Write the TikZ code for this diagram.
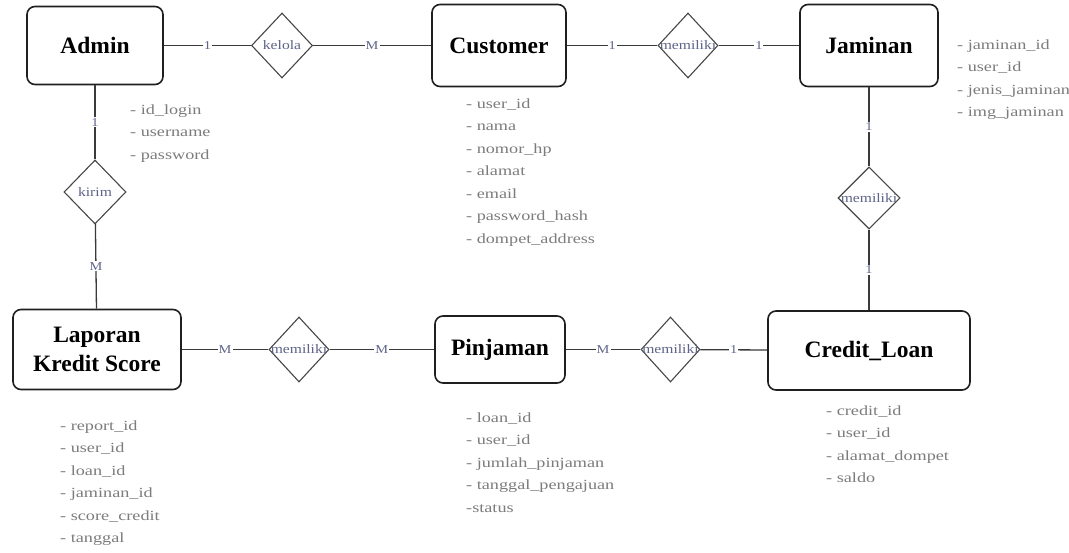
\documentclass[tikz,border=0pt]{standalone}
\usepackage{fontspec}
\IfFontExistsTF{LiberationSerif-Regular.ttf}{%
  \setmainfont{LiberationSerif-Regular.ttf}[BoldFont=LiberationSerif-Bold.ttf]
  \newfontfamily\attrfont{LiberationSerif-Regular.ttf}[FakeStretch=1.3]
  \newfontfamily\relfont{LiberationSerif-Regular.ttf}[FakeStretch=1.2]
}{%
  \setmainfont{Latin Modern Roman}
  \newfontfamily\attrfont{Latin Modern Roman}[FakeStretch=1.2]
  \newfontfamily\relfont{Latin Modern Roman}[FakeStretch=1.1]
}
\usetikzlibrary{shapes.geometric}
\definecolor{linec}{HTML}{3A3A3A}
\definecolor{attrc}{HTML}{7C7C7C}
\definecolor{relc}{HTML}{5E6488}
\tikzset{
  entity/.style={draw=black!88, line width=1.6pt, rounded corners=8pt, fill=white,
    font=\bfseries\fontsize{23.5}{29}\selectfont, align=center, inner sep=0pt},
  rel/.style={diamond, draw=black!72, line width=1.1pt, minimum width=61pt,
    minimum height=65pt, inner sep=0pt, fill=white},
  reltext/.style={font=\relfont\fontsize{13}{13}\selectfont, text=relc, inner sep=0pt},
  card/.style={font=\relfont\fontsize{12}{12}\selectfont, text=relc, fill=white, inner sep=1pt},
  conn/.style={draw=linec, line width=1.3pt},
  attr/.style={anchor=north west, inner sep=0pt, align=left, text=attrc,
    font=\attrfont\fontsize{14}{22.5}\selectfont}
}
\begin{document}
\begin{tikzpicture}[x=1pt, y=-1pt]
\useasboundingbox (0,0) rectangle (1069,553);
\fill[white] (0,0) rectangle (1069,553);

% entities
\node[entity, minimum width=136pt, minimum height=78pt] (admin) at (95,45.5) {Admin};
\node[entity, minimum width=134pt, minimum height=82pt] (customer) at (499,45.5) {Customer};
\node[entity, minimum width=138pt, minimum height=82pt] (jaminan) at (869,45.5) {Jaminan};
\node[entity, minimum width=168pt, minimum height=80pt] (laporan) at (97,349.5) {Laporan\\Kredit Score};
\node[entity, minimum width=130pt, minimum height=67pt] (pinjaman) at (500,349.5) {Pinjaman};
\node[entity, minimum width=202pt, minimum height=79pt] (credit) at (869,350.5) {Credit\_Loan};

% relationships
\node[rel, label={[reltext, name=kelolaT]center:kelola}] (kelola) at (282,45.5) {};
\node[rel, minimum width=60pt, label={[reltext, name=mem1T]center:memiliki}] (mem1) at (688,45.5) {};
\node[rel, minimum width=62pt, minimum height=64pt, label={[reltext, name=kirimT]center:kirim}] (kirim) at (95,192) {};
\node[rel, minimum width=62pt, minimum height=62pt, label={[reltext, name=mem2T]center:memiliki}] (mem2) at (869,198) {};
\node[rel, minimum width=60pt, label={[reltext, name=mem3T]center:memiliki}] (mem3) at (299,349.5) {};
\node[rel, minimum width=59pt, label={[reltext, name=mem4T]center:memiliki}] (mem4) at (670.5,349.5) {};

% connectors
\draw[conn] (admin) -- node[card] (c1) {1} (kelola);
\draw[conn] (kelola) -- node[card] (c2) {M} (customer);
\draw[conn] (customer) -- node[card] (c3) {1} (mem1);
\draw[conn] (mem1) -- node[card] (c4) {1} (jaminan);
\draw[conn] (admin) -- node[card] (c5) {1} (kirim);
\draw[conn] (kirim) -- node[card] (c6) {M} (laporan);
\draw[conn] (jaminan) -- node[card] (c7) {1} (mem2);
\draw[conn] (mem2) -- node[card] (c8) {1} (credit);
\draw[conn] (laporan) -- node[card] (c9) {M} (mem3);
\draw[conn] (mem3) -- node[card] (c10) {M} (pinjaman);
\draw[conn] (pinjaman) -- node[card] (c11) {M} (mem4);
\draw[conn] (mem4) -- node[card] (c12) {1} (credit);

% attributes
\node[attr] (aAdmin) at (130,104) {\rule{0pt}{10pt}- id\_login\\- username\\- password};
\node[attr] (aCustomer) at (466,98) {\rule{0pt}{10pt}- user\_id\\- nama\\- nomor\_hp\\- alamat\\- email\\- password\_hash\\- dompet\_address};
\node[attr] (aJaminan) at (957,39) {\rule{0pt}{10pt}- jaminan\_id\\- user\_id\\- jenis\_jaminan\\- img\_jaminan};
\node[attr] (aLaporan) at (60,420) {\rule{0pt}{10pt}- report\_id\\- user\_id\\- loan\_id\\- jaminan\_id\\- score\_credit\\- tanggal};
\node[attr] (aPinjaman) at (466,412) {\rule{0pt}{10pt}- loan\_id\\- user\_id\\- jumlah\_pinjaman\\- tanggal\_pengajuan\\-status};
\node[attr] (aCredit) at (826,405) {\rule{0pt}{10pt}- credit\_id\\- user\_id\\- alamat\_dompet\\- saldo};
\end{tikzpicture}
\end{document}
